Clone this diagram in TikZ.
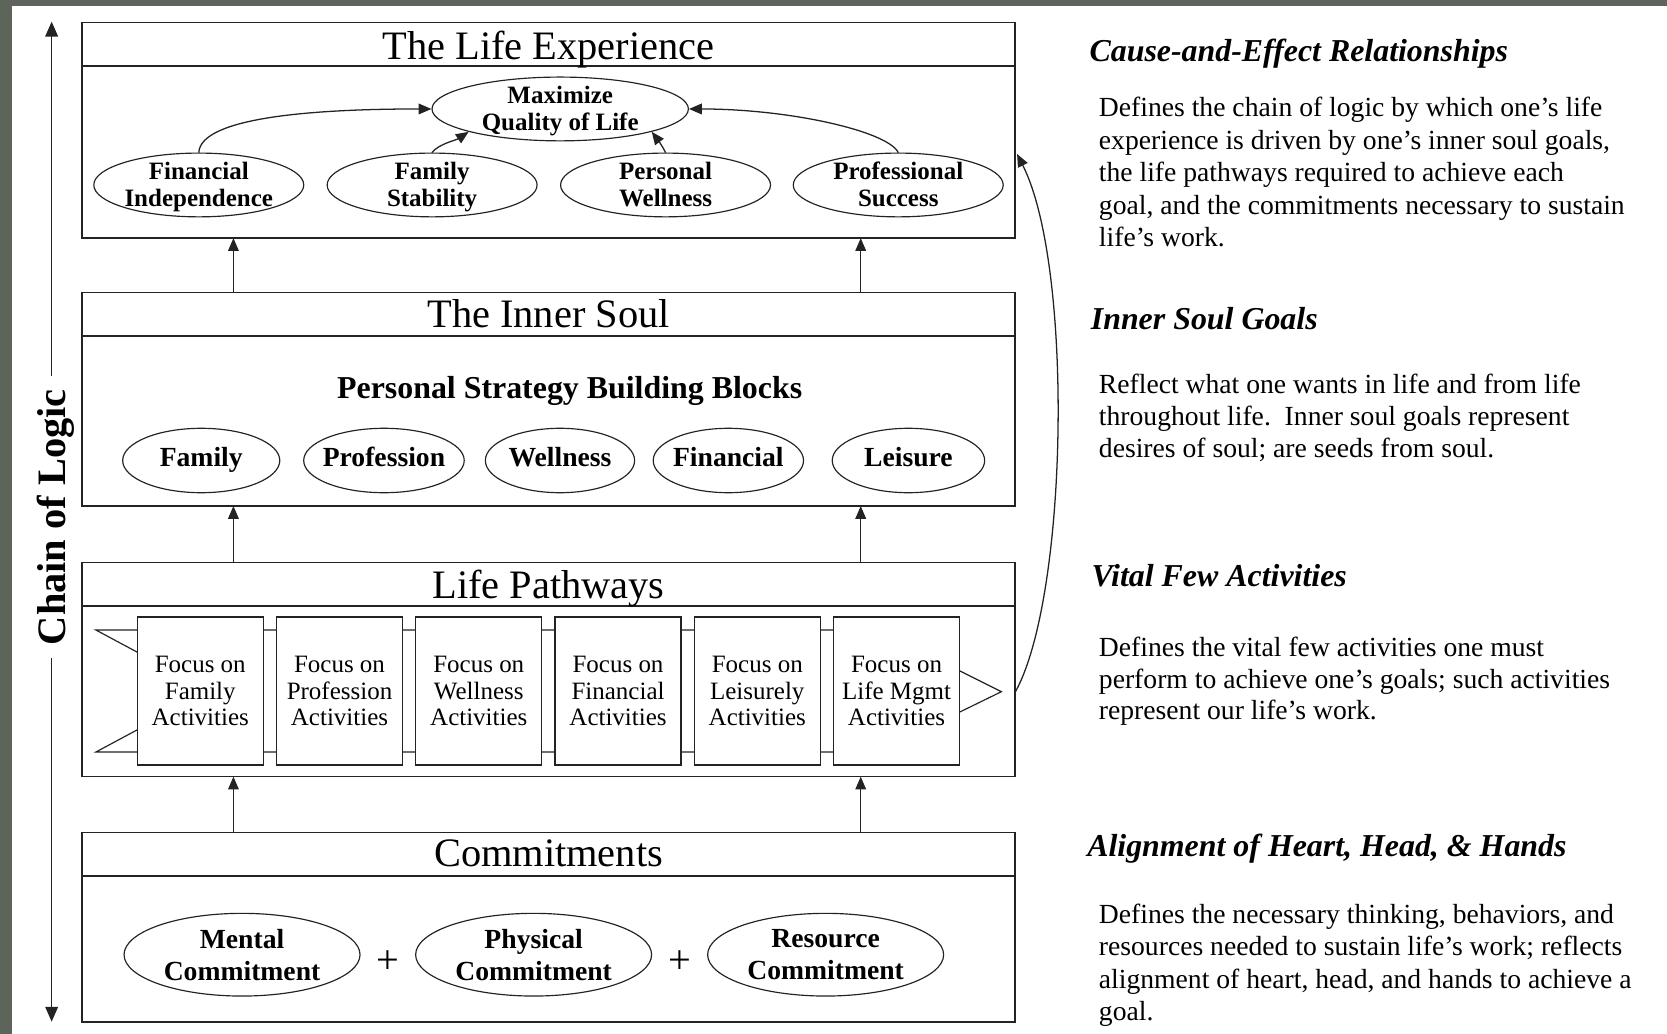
\documentclass[tikz,border=0pt]{standalone}
\usepackage{fontspec}
\setmainfont{Liberation Serif}
\usetikzlibrary{shapes.geometric,arrows.meta,calc}
\definecolor{slate}{RGB}{93,100,89}
\definecolor{linec}{RGB}{35,35,35}
\newcommand{\topstrut}{\rule{0pt}{21pt}}
\newcommand{\botstrut}{\rule[-6pt]{0pt}{6pt}}
\begin{document}
\begin{tikzpicture}[x=1pt,y=-1pt,
  bigbox/.style={draw=linec, line width=1.3pt, minimum width=877.5pt, inner sep=0pt, outer sep=0pt, anchor=north west},
  divline/.style={draw=linec, line width=1.3pt},
  boxtitle/.style={anchor=base, inner sep=0pt, font=\fontsize{38}{40}\selectfont},
  ell/.style={ellipse, draw=linec, line width=1.1pt, fill=white, inner xsep=-10pt, inner ysep=-10pt, align=center},
  goalell/.style={ell, minimum width=197.5pt, minimum height=60pt, font=\bfseries\fontsize{23.5}{26}\selectfont},
  blockell/.style={ell, minimum height=60.6pt, text height=18pt, text depth=6pt, font=\bfseries\fontsize{26}{28}\selectfont},
  commitell/.style={ell, minimum width=222pt, minimum height=77.8pt, font=\bfseries\fontsize{26}{30}\selectfont},
  actbox/.style={draw=linec, line width=1.2pt, fill=white, minimum width=118.6pt, minimum height=139.3pt, inner sep=0pt, align=center, font=\fontsize{23.5}{25}\selectfont},
  arr/.style={-{Triangle[length=12pt,width=10pt]}, line width=1.2pt, draw=linec},
  headtxt/.style={anchor=base west, inner sep=0pt, font=\bfseries\itshape\fontsize{30}{32}\selectfont},
  bodytxt/.style={anchor=base west, inner sep=0pt, font=\fontsize{26}{30}\selectfont},
]
% background
\fill[slate] (0,0) rectangle (1568.2,972.7);
\fill[white] (11.3,5.6) rectangle (1568.2,972.7);
\useasboundingbox (0,0) rectangle (1568.2,972.7);

% ---------- The Life Experience ----------
\node[bigbox, minimum height=202.6pt] (le) at (77.3,21.4) {};
\draw[divline] ($(le.north west)+(0,40.6)$) -- ($(le.north east)+(0,40.6)$);
\node[boxtitle] (let) at (516,56) {The Life Experience};
\node[goalell, minimum width=241.2pt] (mq) at (527,102.5) {\topstrut Maximize\\Quality of Life\botstrut};
\node[goalell] (fi) at (187,174) {\topstrut Financial\\Independence\botstrut};
\node[goalell] (fs) at (406.5,174) {\topstrut Family\\Stability\botstrut};
\node[goalell] (pw) at (626.1,174) {\topstrut Personal\\Wellness\botstrut};
\node[goalell] (ps) at (845,174) {\topstrut Professional\\Success\botstrut};
\draw[arr] (fi.north) .. controls +(2,-34) and +(-105,0) .. (mq.west);
\draw[arr] (fs.north) .. controls +(6,-8) and +(-12,8) .. (mq.194);
\draw[arr] (pw.north) .. controls +(-3,-6) and +(6,8) .. (mq.-14);
\draw[arr] (ps.north) .. controls +(-10,-20) and +(95,0) .. (mq.east);

% ---------- The Inner Soul ----------
\node[bigbox, minimum height=200.7pt] (is) at (77.3,275.3) {};
\draw[divline] ($(is.north west)+(0,40.8)$) -- ($(is.north east)+(0,40.8)$);
\node[boxtitle] (ist) at (516,308) {The Inner Soul};
\node[anchor=base, inner sep=0pt, font=\bfseries\fontsize{30}{32}\selectfont] (psb) at (535.9,374.7) {Personal Strategy Building Blocks};
\node[blockell, minimum width=147.8pt] (bfam) at (189.3,433.2) {Family};
\node[blockell, minimum width=151pt] (bpro) at (361.2,433.2) {Profession};
\node[blockell, minimum width=140.4pt] (bwel) at (526.8,433.2) {Wellness};
\node[blockell, minimum width=141.4pt] (bfin) at (685.2,433.2) {Financial};
\node[blockell, minimum width=143.4pt] (blei) at (854.6,433.2) {Leisure};

% ---------- Life Pathways ----------
\node[bigbox, minimum height=201.3pt] (lp) at (77.3,529.3) {};
\draw[divline] ($(lp.north west)+(0,40.7)$) -- ($(lp.north east)+(0,40.7)$);
\node[boxtitle] (lpt) at (516,562.9) {Life Pathways};
\draw[draw=linec, line width=1.1pt, fill=white]
  (90.3,592.7) -- (826,592.7) -- (942,650.7) -- (826,707.4) -- (90.3,707.4) -- (197.2,650) -- cycle;
\foreach \i/\t in {0/Family,1/Profession,2/Wellness,3/Financial,4/Leisurely,5/Life Mgmt}
  \node[actbox] (a\i) at ({188.4+131*\i},650) {Focus on\\\t\\Activities};

% ---------- Commitments ----------
\node[bigbox, minimum height=178.1pt] (cm) at (77.3,783.3) {};
\draw[divline] ($(cm.north west)+(0,40.7)$) -- ($(cm.north east)+(0,40.7)$);
\node[boxtitle] (cmt) at (516,815.3) {Commitments};
\node[commitell] (mc) at (227.7,898.1) {Mental\\Commitment};
\node[commitell] (pc) at (502,898.1) {Physical\\Commitment};
\node[commitell] (rc) at (776.7,898.1) {Resource\\Commitment};
\node[inner sep=0pt, font=\fontsize{38}{40}\selectfont] (plus1) at (365.3,905) {+};
\node[inner sep=0pt, font=\fontsize{38}{40}\selectfont] (plus2) at (639.4,905) {+};

% ---------- vertical arrows between layers ----------
\coordinate (xl) at (219.6,0);
\coordinate (xr) at (809.7,0);
\draw[arr] (cm.north -| xl) -- (lp.south -| xl);
\draw[arr] (cm.north -| xr) -- (lp.south -| xr);
\draw[arr] (lp.north -| xl) -- (is.south -| xl);
\draw[arr] (lp.north -| xr) -- (is.south -| xr);
\draw[arr] (is.north -| xl) -- (le.south -| xl);
\draw[arr] (is.north -| xr) -- (le.south -| xr);

% ---------- feedback curve ----------
\draw[arr] ($(lp.east)+(0.5,20.7)$) .. controls (1005,560) and (1010,250) .. ($(le.east)+(2,22.2)$);

% ---------- Chain of Logic ----------
\coordinate (ctop) at (48.6,20.4);
\coordinate (cbot) at (48.6,961.1);
\node[rotate=90, inner xsep=12pt, inner ysep=0pt, font=\bfseries\fontsize{38}{40}\selectfont] (chain) at (52,486.5) {Chain of Logic};
\draw[-{Triangle[length=14pt,width=12pt]}, line width=1.2pt, draw=linec] (chain.east -| ctop) -- (ctop);
\draw[-{Triangle[length=14pt,width=12pt]}, line width=1.2pt, draw=linec] (chain.west -| cbot) -- (cbot);

% ---------- right-hand text ----------
\node[headtxt] (h1) at (1024.8,57.4) {Cause-and-Effect Relationships};
\node[bodytxt] (p1a) at (1033.6,110) {Defines the chain of logic by which one’s life};
\node[bodytxt] (p1b) at (1033.6,140.5) {experience is driven by one’s inner soul goals,};
\node[bodytxt] (p1c) at (1033.6,171) {the life pathways required to achieve each};
\node[bodytxt] (p1d) at (1033.6,201.5) {goal, and the commitments necessary to sustain};
\node[bodytxt] (p1e) at (1033.6,232) {life’s work.};

\node[headtxt] (h2) at (1026,310.4) {Inner Soul Goals};
\node[bodytxt] (p2a) at (1033.6,370) {Reflect what one wants in life and from life};
\node[bodytxt] (p2b) at (1033.6,400.5) {throughout life.\ \ Inner soul goals represent};
\node[bodytxt] (p2c) at (1033.6,430.5) {desires of soul; are seeds from soul.};

\node[headtxt] (h3) at (1026.8,551.9) {Vital Few Activities};
\node[bodytxt] (p3a) at (1033.6,617.8) {Defines the vital few activities one must};
\node[bodytxt] (p3b) at (1033.6,647.5) {perform to achieve one’s goals; such activities};
\node[bodytxt] (p3c) at (1033.6,677.3) {represent our life’s work.};

\node[headtxt] (h4) at (1022.6,805.9) {Alignment of Heart, Head, \& Hands};
\node[bodytxt] (p4a) at (1033.6,868.6) {Defines the necessary thinking, behaviors, and};
\node[bodytxt] (p4b) at (1033.6,898.4) {resources needed to sustain life’s work; reflects};
\node[bodytxt] (p4c) at (1033.6,929.8) {alignment of heart, head, and hands to achieve a};
\node[bodytxt] (p4d) at (1033.6,959.6) {goal.};
\end{tikzpicture}
\end{document}
